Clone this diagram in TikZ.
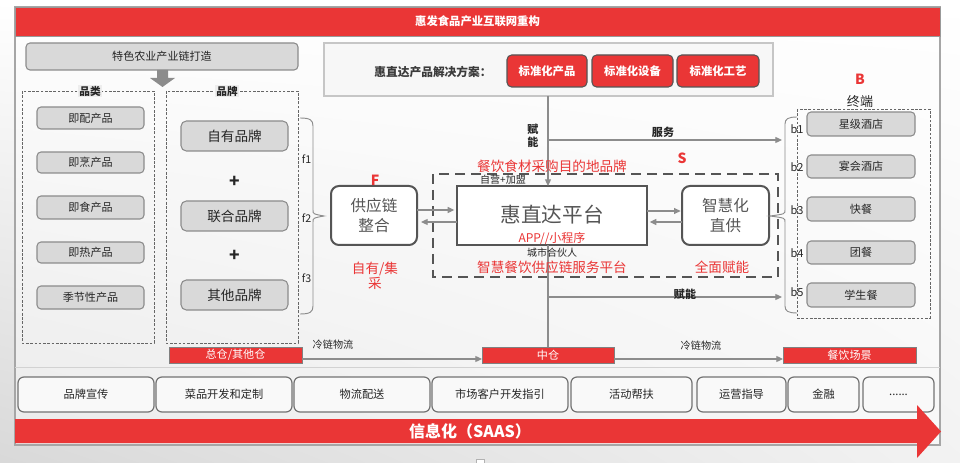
\documentclass[tikz,border=0pt]{standalone}
\usepackage{fontspec}
\setmainfont{Noto Sans CJK SC}
\usetikzlibrary{arrows.meta,shadings}
\definecolor{hred}{HTML}{EA3636}
\definecolor{bxfill}{HTML}{D9D9D9}
\definecolor{bxline}{HTML}{8C8C8C}
\definecolor{dk}{HTML}{555555}
\definecolor{txt}{HTML}{262626}
\definecolor{arrg}{HTML}{8C8C8C}
\definecolor{lblbg}{HTML}{EDEDED}
\begin{document}
\begin{tikzpicture}[x=0.75pt,y=-0.75pt,
  bb/.style args={#1/#2/#3/#4}{at={({(#1+#3)/2},{(#2+#4)/2})}, minimum width={(#3-#1)*0.75pt}, minimum height={(#4-#2)*0.75pt}, inner sep=0pt, outer sep=0pt},
  fz/.style={font=\fontsize{#1}{#1}\selectfont},
  fzb/.style={font=\fontsize{#1}{#1}\selectfont\bfseries},
  gbox/.style={draw=bxline, fill=bxfill, rounded corners=3pt, line width=0.8pt, text=txt},
  rbox/.style={draw=gray, fill=hred, text=white, line width=0.6pt},
  rbtn/.style={draw=dk, fill=hred, rounded corners=3.5pt, text=white, line width=0.8pt},
  pbox/.style={draw=dk, fill=white, line width=1.5pt, text=dk},
  sbox/.style={draw=gray!90!black, fill=white!95!gray, rounded corners=4.5pt, line width=0.9pt, text=txt},
  arr/.style={draw=arrg, line width=0.9pt, -{Triangle[length=5pt,width=4.5pt]}},
  ln/.style={draw=arrg, line width=0.9pt},
  dbox/.style={draw=gray!80!black, dash pattern=on 2pt off 1.2pt, line width=0.5pt},
  lbl/.style={text=txt, inner sep=1pt}
]
\useasboundingbox (0,0) rectangle (960,463);
% background
\shade[upper left=white, upper right=white, lower left=gray!30, lower right=gray!10] (0,0) rectangle (960,463);
\fill[white, opacity=0.45] (15,7) rectangle (940,445);
\draw[gray!70, line width=0.8pt] (15,7) rectangle (940,445);
\draw[gray!35, line width=0.6pt] (15,367) -- (940,367);
\draw[gray!60, fill=white, line width=0.4pt] (476,459) rectangle (484,466);

% title
\node[bb=15/7/940/36, fill=hred, draw=gray!80, text=white, fzb=8.5] (title) {惠发食品产业互联网重构};

% left top
\node[gbox, bb=26/43/298/70, fz=8.3] (tese) {特色农业产业链打造};
\fill[gray!90] (157,70) -- (168,70) -- (168,78) -- (175,78) -- (162.5,87) -- (150,78) -- (157,78) -- cycle;

\draw[dbox] (22,91) rectangle (154,343);
\node[fill=lblbg, lbl, fzb=8] (pl) at (90,91) {品类};
\draw[dbox] (166,91) rectangle (298,343);
\node[fill=lblbg, lbl, fzb=8] (pp) at (227,91) {品牌};

\node[gbox, bb=37/107/144/129, fz=8.3] (c1) {即配产品};
\node[gbox, bb=37/152/144/173, fz=8.3] (c2) {即烹产品};
\node[gbox, bb=37/196/144/219, fz=8.3] (c3) {即食产品};
\node[gbox, bb=37/242/144/263, fz=8.3] (c4) {即热产品};
\node[gbox, bb=37/286/144/309, fz=8.3] (c5) {季节性产品};

\node[gbox, rounded corners=4pt, bb=181/121/288/151, fz=10.2] (p1) {自有品牌};
\node[fzb=13, text=txt] (plus1) at (234.5,182) {+};
\node[gbox, rounded corners=4pt, bb=181/201/288/231, fz=10.2] (p2) {联合品牌};
\node[fzb=13, text=txt] (plus2) at (234.5,256) {+};
\node[gbox, rounded corners=4pt, bb=181/280/288/310, fz=10.2] (p3) {其他品牌};

% f brace
\draw[arrg, line width=0.7pt] (300,118) .. controls (310,118) and (313,120) .. (313,126) -- (313,210) .. controls (313,214) .. (324,216) .. controls (313,218) .. (313,222) -- (313,306) .. controls (313,312) and (310,314) .. (300,314);
\node[lbl, fz=8] (f1) at (306.5,159) {f1};
\node[lbl, fz=8] (f2) at (306.5,218) {f2};
\node[lbl, fz=8] (f3) at (306.5,278) {f3};

% solution box
\node[bb=324/43/773/96, fill=white!94!gray, draw=gray!45, line width=0.8pt] (sol) {};
\node[lbl, fzb=8.8, text=dk!70!black] (soltxt) at (433,72) {惠直达产品解决方案：};
\node[rbtn, bb=507/55/587/87, fzb=8.5] (b1n) {标准化产品};
\node[rbtn, bb=592/55/673/87, fzb=8.5] (b2n) {标准化设备};
\node[rbtn, bb=677/55/759/87, fzb=8.5] (b3n) {标准化工艺};

% dashed S box
\draw[draw=dk, line width=2.2pt, dash pattern=on 7.5pt off 4.5pt] (433,174) rectangle (778,277);

% main nodes
\node[pbox, rounded corners=6pt, bb=331/186/417/245, align=center, font=\fontsize{11.7}{15}\selectfont] (gyl) {供应链\\整合};
\node[pbox, bb=457/186/647/245] (hzd) {};
\node[text=dk, fz=15.5] (hzdt) at (552,215) {惠直达平台};
\node[pbox, rounded corners=6pt, bb=682/186/769/245, align=center, font=\fontsize{11.7}{15}\selectfont] (zhh) {智慧化\\直供};

% vertical axis
\coordinate (vx) at (548,0);
\coordinate (svcL) at (548,140);
\coordinate (svcR) at (782,140);
\coordinate (fnL) at (548,297);
\coordinate (fnR) at (782,297);

\draw[arr] (vx |- sol.south) -- (vx |- hzd.north);
\draw[arr] (svcL) -- (svcR);
\draw[arr] (fnL) -- (fnR);

% bottom red bars
\node[rbox, bb=169/347/302/363, fz=8.3] (zc0) {总仓/其他仓};
\node[rbox, bb=482/347/614/363, fz=8.3] (zc) {中仓};
\node[rbox, bb=783/347/916/363, fz=8.3] (cy) {餐饮场景};

\draw[ln] (vx |- hzd.south) -- (vx |- zc.north);
\draw[arr] (zc0.east |- 0,359) -- (zc.west |- 0,359);
\draw[arr] (zc.east |- 0,359) -- (cy.west |- 0,359);

% double arrows
\draw[arr] (gyl.east |- 0,210) -- ([xshift=-2pt]hzd.west |- 0,210);
\draw[arr] (hzd.west |- 0,222) -- ([xshift=3pt]gyl.east |- 0,222);
\draw[arr] (hzd.east |- 0,211) -- ([xshift=-1pt]zhh.west |- 0,211);
\draw[arr] (zhh.west |- 0,222) -- ([xshift=2pt]hzd.east |- 0,222);

% labels
\node[lbl, align=center, font=\fontsize{8.3}{10}\selectfont\bfseries] (fn1) at (533,136) {赋\\能};
\node[lbl, fzb=8.3] (fw) at (663,132) {服务};
\node[lbl, fzb=8.3] (fn2) at (685,294) {赋能};
\node[lbl, fz=7.6] (ll1) at (333,345) {冷链物流};
\node[lbl, fz=7.6] (ll2) at (701,346) {冷链物流};

\node[text=hred, fzb=10.5] (F) at (375,180) {F};
\node[text=hred, align=center, font=\fontsize{10.2}{11.5}\selectfont] (zyjc) at (375,275.5) {自有/集\\采};
\node[text=hred, fz=10.2, inner sep=0pt] (mdd) at (552,166) {餐饮食材采购目的地品牌};
\node[lbl, fz=7.5] (zy) at (503,180) {自营+加盟};
\node[text=hred, fz=9, inner sep=0pt] (app) at (552,239) {APP//小程序};
\node[lbl, fz=7.5] (cs) at (552,253) {城市合伙人};
\node[text=hred, fz=10.2, inner sep=0pt] (zh) at (552,267) {智慧餐饮供应链服务平台};
\node[text=hred, fzb=10.5] (S) at (682,158) {S};
\node[text=hred, fz=10.2, inner sep=0pt] (qm) at (722,267) {全面赋能};

% right side
\node[text=hred, fzb=10.5] (B) at (860,79) {B};
\node[lbl, fz=9.8] (zd) at (860,102) {终端};
\draw[dbox] (797,109) rectangle (930,318);
\draw[arrg, line width=0.7pt] (797,117) .. controls (788,117) and (785,119) .. (785,124) -- (785,210) .. controls (785,214) .. (770,216) .. controls (785,218) .. (785,222) -- (785,306) .. controls (785,311) and (788,313) .. (797,313);
\node[gbox, bb=807/112/915/136, fz=8.3] (t1) {星级酒店};
\node[gbox, bb=807/155/915/178, fz=8.3] (t2) {宴会酒店};
\node[gbox, bb=807/197/915/221, fz=8.3] (t3) {快餐};
\node[gbox, bb=807/241/915/264, fz=8.3] (t4) {团餐};
\node[gbox, bb=807/283/915/307, fz=8.3] (t5) {学生餐};
\node[lbl, fz=8.3] (bl1) at (797,129) {b1};
\node[lbl, fz=8.3] (bl2) at (797,167) {b2};
\node[lbl, fz=8.3] (bl3) at (797,210) {b3};
\node[lbl, fz=8.3] (bl4) at (797,253) {b4};
\node[lbl, fz=8.3] (bl5) at (797,292) {b5};

% bottom services
\node[sbox, bb=18/377/154/412, fz=8.4] (s1) {品牌宣传};
\node[sbox, bb=156/377/292/412, fz=8.4] (s2) {菜品开发和定制};
\node[sbox, bb=294/377/430/412, fz=8.4] (s3) {物流配送};
\node[sbox, bb=432/377/568/412, fz=8.4] (s4) {市场客户开发指引};
\node[sbox, bb=571/377/692/412, fz=8.4] (s5) {活动帮扶};
\node[sbox, bb=697/377/786/412, fz=8.4] (s6) {运营指导};
\node[sbox, bb=788/377/859/412, fz=8.4] (s7) {金融};
\node[sbox, bb=863/377/934/412, fz=8.4] (s8) {......};

% info arrow
\fill[hred] (15,419) -- (917,419) -- (917,405) -- (941,431.5) -- (917,458) -- (917,443) -- (15,443) -- cycle;
\node[text=white, fzb=12] (saas) at (470,431) {信息化（SAAS）};
\end{tikzpicture}
\end{document}
